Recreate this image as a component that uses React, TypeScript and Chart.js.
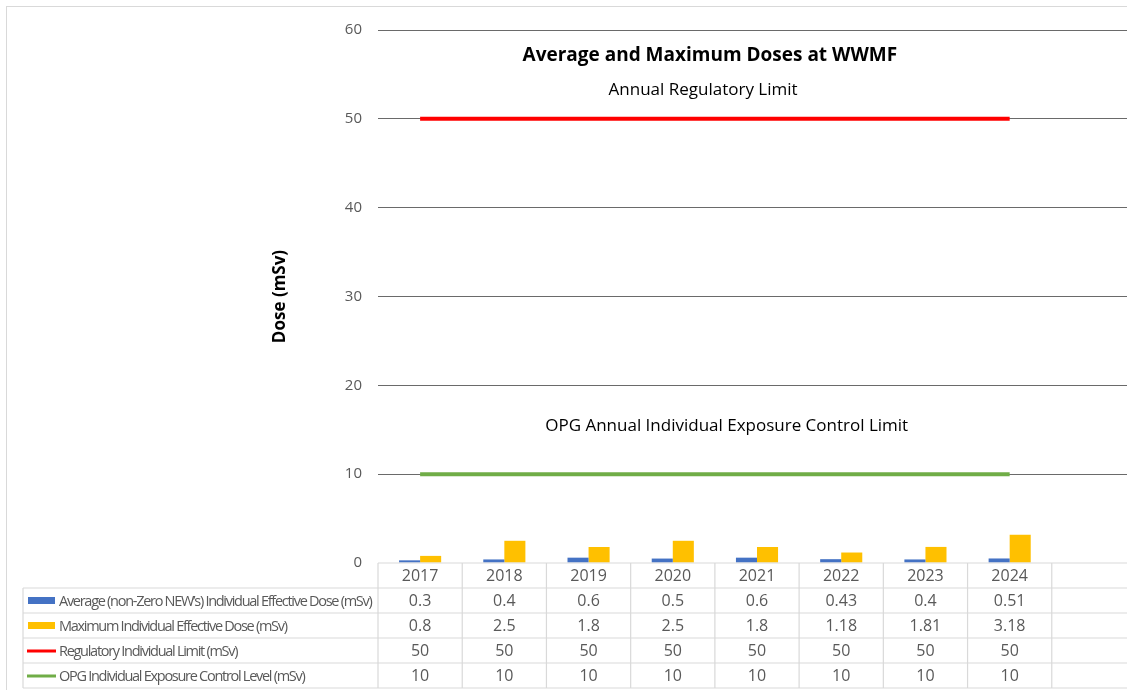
import React, { useEffect, useRef } from "react";
import { Chart, registerables } from "chart.js";

Chart.register(...registerables);

// ---- data ----
const categories = ["2017", "2018", "2019", "2020", "2021", "2022", "2023", "2024", ""];
const avgDose = [0.3, 0.4, 0.6, 0.5, 0.6, 0.43, 0.4, 0.51, null];
const maxDose = [0.8, 2.5, 1.8, 2.5, 1.8, 1.18, 1.81, 3.18, null];
const regulatoryLimit = [50, 50, 50, 50, 50, 50, 50, 50, null];
const opgControlLevel = [10, 10, 10, 10, 10, 10, 10, 10, null];
const seriesNames = [
  "Average (non-Zero NEW\u2019s) Individual Effective Dose (mSv)",
  "Maximum Individual Effective Dose (mSv)",
  "Regulatory Individual Limit (mSv)",
  "OPG Individual Exposure Control Level (mSv)",
];
const yTicks = [0, 10, 20, 30, 40, 50, 60];
const chartTitle = "Average and Maximum Doses at WWMF";
const yTitle = "Dose (mSv)";
const noteRegulatory = "Annual Regulatory Limit";
const noteOpg = "OPG Annual Individual Exposure Control Limit";

// ---- styles ----
const FONT = "'Open Sans', 'Noto Sans', sans-serif";
const COLORS = ["#4472C4", "#FFC000", "#FF0000", "#70AD47"];
const GRID = "#d9d9d9";
const TEXT_GRAY = "#595959";

// text placement (in axis units: category index, value)
const notes = [
  { text: chartTitle, x: 3.44, y: 57.1, size: 19, bold: true, color: "#000" },
  { text: noteRegulatory, x: 3.36, y: 53.2, size: 17, bold: false, color: "#000" },
  { text: noteOpg, x: 3.64, y: 15.4, size: 17, bold: false, color: "#000" },
];

const tablePlugin = {
  id: "tablePlugin",
  afterDraw(chart: any) {
    const ctx: CanvasRenderingContext2D = chart.ctx;
    const xs = chart.scales.x;
    const ys = chart.scales.y;
    const area = chart.chartArea;
    ctx.save();

    // outer frame
    ctx.strokeStyle = GRID;
    ctx.lineWidth = 1;
    ctx.strokeRect(6.5, 6.5, 3000, 3000);

    // title and notes
    ctx.textAlign = "center";
    ctx.textBaseline = "middle";
    for (const n of notes) {
      ctx.font = `${n.bold ? "bold " : ""}${n.size}px ${FONT}`;
      ctx.fillStyle = n.color;
      ctx.fillText(n.text, xs.getPixelForValue(n.x), ys.getPixelForValue(n.y));
    }

    // data table
    const n = categories.length;
    const colW = (area.right - area.left) / n;
    const rowH = 25;
    const top = area.bottom;
    const tableLeft = 23;
    const rows = [avgDose, maxDose, regulatoryLimit, opgControlLevel];
    const bottom = top + (rows.length + 1) * rowH;

    ctx.strokeStyle = GRID;
    ctx.lineWidth = 1.2;
    ctx.beginPath();
    ctx.moveTo(area.left, top);
    ctx.lineTo(area.right + 10, top);
    for (let r = 1; r <= rows.length + 1; r++) {
      const y = top + r * rowH;
      ctx.moveTo(tableLeft, y);
      ctx.lineTo(area.right + 10, y);
    }
    for (let c = 0; c <= n; c++) {
      const x = area.left + c * colW;
      ctx.moveTo(x, top);
      ctx.lineTo(x, bottom);
    }
    ctx.moveTo(tableLeft, top + rowH);
    ctx.lineTo(tableLeft, bottom);
    ctx.stroke();

    // header years
    ctx.font = `16px ${FONT}`;
    ctx.fillStyle = TEXT_GRAY;
    ctx.textAlign = "center";
    for (let c = 0; c < n; c++) {
      ctx.fillText(categories[c], xs.getPixelForValue(c), top + rowH / 2 + 1);
    }
    rows.forEach((vals, r) => {
      const cy = top + (r + 1) * rowH + rowH / 2 + 1;
      ctx.textAlign = "center";
      ctx.font = `16px ${FONT}`;
      ctx.fillStyle = TEXT_GRAY;
      vals.forEach((v, c) => {
        if (v !== null && v !== undefined) ctx.fillText(String(v), xs.getPixelForValue(c), cy);
      });
      ctx.fillStyle = COLORS[r];
      if (r < 2) {
        ctx.fillRect(28, cy - 4.5, 27, 7);
      } else {
        ctx.fillRect(27, cy - 2, 29, 3);
      }
      ctx.textAlign = "left";
      ctx.font = `14.5px ${FONT}`;
      (ctx as any).letterSpacing = "-1.28px";
      ctx.fillStyle = TEXT_GRAY;
      ctx.fillText(seriesNames[r], 59, cy);
      (ctx as any).letterSpacing = "0px";
    });

    ctx.restore();
  },
};

export default function App() {
  const ref = useRef<HTMLCanvasElement | null>(null);

  useEffect(() => {
    if (!ref.current) return;
    const chart = new Chart(ref.current, {
      type: "bar",
      data: {
        labels: categories,
        datasets: [
          {
            type: "bar",
            label: seriesNames[0],
            data: avgDose,
            backgroundColor: COLORS[0],
            categoryPercentage: 0.5,
            barPercentage: 1,
            order: 2,
          },
          {
            type: "bar",
            label: seriesNames[1],
            data: maxDose,
            backgroundColor: COLORS[1],
            categoryPercentage: 0.5,
            barPercentage: 1,
            order: 2,
          },
          {
            type: "line",
            label: seriesNames[2],
            data: regulatoryLimit,
            borderColor: COLORS[2],
            backgroundColor: COLORS[2],
            borderWidth: 4,
            pointRadius: 0,
            order: 1,
          },
          {
            type: "line",
            label: seriesNames[3],
            data: opgControlLevel,
            borderColor: COLORS[3],
            backgroundColor: COLORS[3],
            borderWidth: 4,
            pointRadius: 0,
            order: 1,
          },
        ] as any,
      },
      options: {
        responsive: false,
        animation: false,
        layout: { padding: { left: 266, top: 30, right: 4, bottom: 127 } },
        plugins: {
          legend: { display: false },
          title: { display: false },
          tooltip: { enabled: false },
        },
        scales: {
          x: { display: false, offset: true, grid: { display: false } },
          y: {
            min: yTicks[0],
            max: yTicks[yTicks.length - 1],
            afterBuildTicks: (s: any) => {
              s.ticks = yTicks.map((v) => ({ value: v }));
            },
            afterFit: (s: any) => {
              s.width = 112;
            },
            ticks: {
              padding: 16,
              color: TEXT_GRAY,
              font: { family: FONT, size: 15 },
            },
            grid: {
              drawTicks: false,
              lineWidth: 1,
              color: (c: any) => (c.tick && c.tick.value === 0 ? "rgba(0,0,0,0)" : "#6a6a6a"),
            },
            border: { display: false },
            title: {
              display: true,
              text: yTitle,
              color: "#000",
              font: { family: FONT, size: 17, weight: "bold" },
              padding: { top: 4, bottom: 0 },
            },
          },
        },
      } as any,
      plugins: [tablePlugin],
    });
    return () => chart.destroy();
  }, []);

  return (
    <div
      style={{
        position: "fixed",
        left: 0,
        top: 0,
        width: 1127,
        height: 690,
        overflow: "hidden",
        background: "#fff",
      }}
    >
      <canvas ref={ref} width={1140} height={690} style={{ display: "block" }} />
    </div>
  );
}
